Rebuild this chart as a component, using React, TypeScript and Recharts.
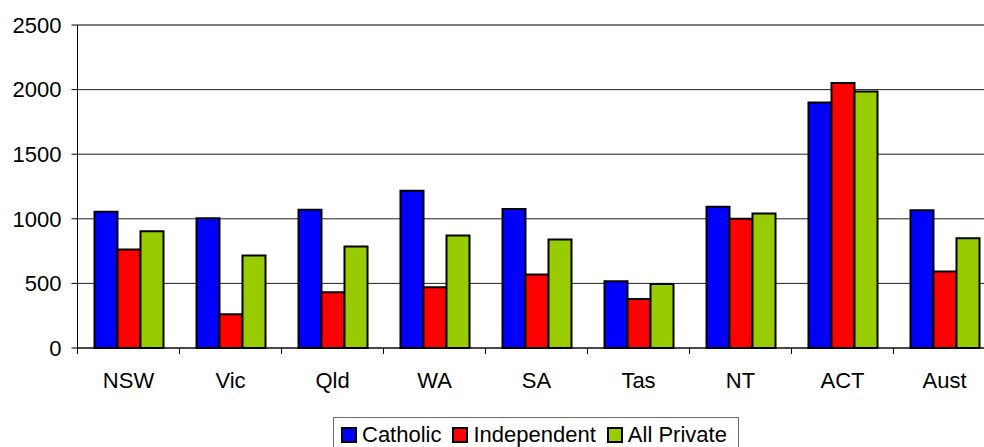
import { Bar, BarChart, CartesianGrid, Legend, ReferenceLine, XAxis, YAxis } from "recharts"

const states = ["NSW", "Vic", "Qld", "WA", "SA", "Tas", "NT", "ACT", "Aust"]
const catholic = [1054, 1005, 1070, 1218, 1075, 517, 1093, 1900, 1067]
const independent = [763, 262, 431, 470, 569, 379, 1000, 2051, 592]
const allPrivate = [903, 716, 786, 870, 839, 496, 1041, 1986, 849]
const yTicks = [0, 500, 1000, 1500, 2000, 2500]

const series = [
  { key: "catholic", name: "Catholic", color: "#0000FF" },
  { key: "independent", name: "Independent", color: "#FF0000" },
  { key: "allPrivate", name: "All Private", color: "#99CC00" },
]

const data = states.map((name, i) => ({
  name,
  catholic: catholic[i],
  independent: independent[i],
  allPrivate: allPrivate[i],
}))

const W = 1000
const H = 447
const LEFT = 77.5
const RIGHT = 4.5
const band = (W - LEFT - RIGHT) / states.length
const font = "'Liberation Sans', Arial, sans-serif"

// category labels with tick marks on the band edges (Excel style)
function StateTick(props: any) {
  const { x, y, payload } = props
  const bx = x - band / 2
  return (
    <g>
      <line x1={bx} x2={bx} y1={y} y2={y + 6} stroke="#000" />
      <text x={x} y={y + 40} textAnchor="middle" fontSize={22} fill="#000" fontFamily={font}>
        {payload.value}
      </text>
    </g>
  )
}

function LegendBox() {
  return (
    <div
      style={{
        boxSizing: "border-box",
        width: 406,
        height: 32,
        border: "1px solid #6e6e6e",
        background: "#fff",
        display: "flex",
        alignItems: "center",
        paddingLeft: 7,
        paddingTop: 3,
        fontFamily: font,
        fontSize: 22,
        lineHeight: "22px",
        color: "#000",
      }}
    >
      {series.map((s, i) => (
        <div key={s.key} style={{ display: "flex", alignItems: "center", marginRight: i < 2 ? 11 : 0 }}>
          <span
            style={{
              display: "inline-block",
              boxSizing: "border-box",
              width: 16,
              height: 16,
              background: s.color,
              border: "2px solid #000",
              marginRight: 5,
            }}
          />
          <span>{s.name}</span>
        </div>
      ))}
    </div>
  )
}

export default function App() {
  return (
    <div style={{ position: "absolute", left: 0, top: 0, width: 984, height: 447, overflow: "hidden", background: "#fff" }}>
      <BarChart
        width={W}
        height={H}
        data={data}
        margin={{ top: 25, right: RIGHT, left: 0, bottom: 0 }}
        barGap={0}
        barCategoryGap={17}
        style={{ fontFamily: font }}
      >
        <CartesianGrid vertical={false} stroke="#222" />
        <XAxis
          dataKey="name"
          height={99}
          axisLine={{ stroke: "#000" }}
          tickLine={false}
          tickSize={0}
          tickMargin={0}
          interval={0}
          tick={<StateTick />}
        />
        <YAxis
          width={LEFT}
          domain={[0, 2500]}
          ticks={yTicks}
          axisLine={{ stroke: "#000" }}
          tickLine={{ stroke: "#000" }}
          tickSize={6}
          tickMargin={10}
          tick={{ fontSize: 22, fill: "#000", fontFamily: font }}
        />
        <ReferenceLine y={2500} stroke="#808080" strokeWidth={2} />
        {series.map((s) => (
          <Bar
            key={s.key}
            dataKey={s.key}
            name={s.name}
            fill={s.color}
            stroke="#000"
            strokeWidth={2}
            isAnimationActive={false}
          />
        ))}
        <Legend
          layout="horizontal"
          verticalAlign="middle"
          align="center"
          wrapperStyle={{ top: 417, left: 333, width: 406, height: 32 }}
          content={() => <LegendBox />}
        />
      </BarChart>
    </div>
  )
}
